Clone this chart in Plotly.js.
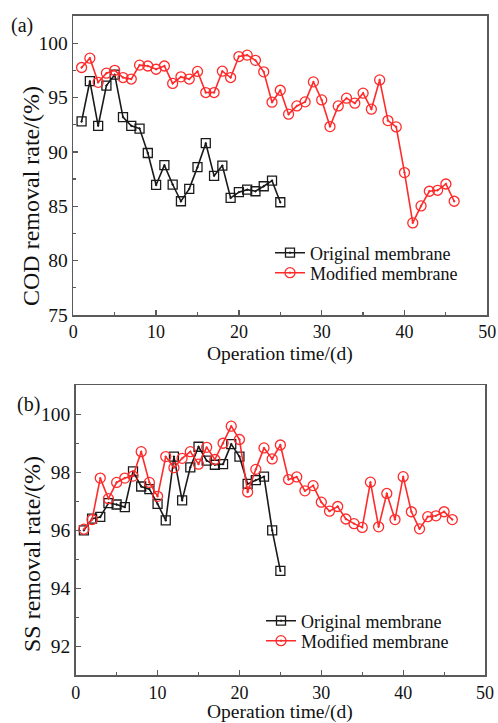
<!DOCTYPE html>
<html>
<head>
<meta charset="utf-8">
<script src="https://cdn.plot.ly/plotly-3.0.1.min.js"></script>
<style>html,body{margin:0;padding:0;background:#fff;}#chart{width:498px;height:723px;}</style>
</head>
<body>
<div id="chart"></div>
<script>
// ---- Data ----
const codDaysOriginal = [1,2,3,4,5,6,7,8,9,10,11,12,13,14,15,16,17,18,19,20,21,22,23,24,25];
const codOriginal = [92.8,96.5,92.4,96.1,97.1,93.2,92.4,92.15,89.9,86.96,88.78,87.0,85.46,86.6,88.6,90.8,87.8,88.74,85.77,86.3,86.53,86.38,86.84,87.36,85.37];
const codDaysModified = [1,2,3,4,5,6,7,8,9,10,11,12,13,14,15,16,17,18,19,20,21,22,23,24,25,26,27,28,29,30,31,32,33,34,35,36,37,38,39,40,41,42,43,44,45,46];
const codModified = [97.76,98.62,96.4,97.24,97.5,96.84,96.7,97.98,97.9,97.6,97.9,96.3,96.9,96.7,97.4,95.46,95.46,97.42,96.84,98.77,98.9,98.42,97.36,94.57,95.67,93.47,94.23,94.6,96.44,94.78,92.33,94.23,94.94,94.48,95.4,93.93,96.62,92.88,92.3,88.1,83.47,85.03,86.38,86.47,87.05,85.46];

const ssDaysOriginal = [1,2,3,4,5,6,7,8,9,10,11,12,13,14,15,16,17,18,19,20,21,22,23,24,25];
const ssOriginal = [96.0,96.4,96.46,96.94,96.89,96.8,98.03,97.51,97.42,96.91,96.34,98.54,97.03,98.17,98.88,98.4,98.26,98.28,98.97,98.54,97.6,97.73,97.85,96.0,94.6];
const ssDaysModified = [1,2,3,4,5,6,7,8,9,10,11,12,13,14,15,16,17,18,19,20,21,22,23,24,25,26,27,28,29,30,31,32,33,34,35,36,37,38,39,40,41,42,43,44,45,46];
const ssModified = [96.04,96.37,97.8,97.09,97.65,97.8,97.87,98.71,97.65,97.17,98.54,98.16,98.48,98.71,98.28,98.86,98.44,99.0,99.59,99.13,97.32,98.1,98.84,98.46,98.94,97.75,97.84,97.36,97.54,96.97,96.66,96.82,96.39,96.23,96.1,97.66,96.12,97.27,96.37,97.85,96.64,96.05,96.47,96.5,96.64,96.37];

const seriesNames = ['Original membrane', 'Modified membrane'];
const xTitle = 'Operation time/(d)';
const yTitleTop = 'COD removal rate/(%)';
const yTitleBottom = 'SS removal rate/(%)';
const panelLabels = ['(a)', '(b)'];

// ---- Styles ----
const FONT = 'Liberation Serif, Times New Roman, serif';
const BLACK = '#1a1a1a';
const RED = '#ff2a2a';
const AXC = '#5a5a5a';
const W = 498, H = 723;

function mk(x, y, name, color, symbol, size, xa, ya, legend) {
  return {
    x: x, y: y, name: name, type: 'scatter', mode: 'lines+markers',
    xaxis: xa, yaxis: ya, legend: legend, showlegend: true,
    line: {color: color, width: 1.6},
    marker: {symbol: symbol, size: size, color: color, line: {color: color, width: 1.3}},
    cliponaxis: false
  };
}

const traces = [
  mk(codDaysOriginal, codOriginal, seriesNames[0], BLACK, 'square-open-dot', 9, 'x', 'y', 'legend'),
  mk(codDaysModified, codModified, seriesNames[1], RED, 'circle-open-dot', 10, 'x', 'y', 'legend3'),
  mk(ssDaysOriginal, ssOriginal, seriesNames[0], BLACK, 'square-open-dot', 9, 'x2', 'y2', 'legend2'),
  mk(ssDaysModified, ssModified, seriesNames[1], RED, 'circle-open-dot', 10, 'x2', 'y2', 'legend4')
];

function xax(domain, anchor) {
  return {
    domain: domain, anchor: anchor, range: [0, 50], dtick: 10, tick0: 0,
    showgrid: false, zeroline: false, showline: true, mirror: true,
    linecolor: AXC, linewidth: 1.6,
    ticks: 'inside', ticklen: 5, tickwidth: 1.3, tickcolor: AXC,
    minor: {ticks: 'inside', dtick: 5, ticklen: 3, tickwidth: 1.2, tickcolor: AXC},
    tickfont: {family: FONT, size: 18, color: '#111'},
    automargin: false
  };
}
function yax(domain, anchor, range, dtick, tick0, minorDtick) {
  return {
    domain: domain, anchor: anchor, range: range, dtick: dtick, tick0: tick0,
    showgrid: false, zeroline: false, showline: true, mirror: true,
    linecolor: AXC, linewidth: 1.6,
    ticks: 'inside', ticklen: 5, tickwidth: 1.3, tickcolor: AXC,
    minor: {ticks: 'inside', dtick: minorDtick, ticklen: 3, tickwidth: 1.2, tickcolor: AXC},
    tickfont: {family: FONT, size: 19.5, color: '#111'},
    automargin: false
  };
}
function leg(px, py) {
  return {x: px / W, y: 1 - py / H, xanchor: 'left', yanchor: 'middle', bgcolor: 'rgba(0,0,0,0)',
          font: {family: FONT, size: 18, color: '#111'}, tracegroupgap: 0, itemwidth: 30, borderwidth: 0};
}
function ann(text, px, py, size, angle) {
  return {text: text, x: px / W, y: 1 - py / H, xref: 'paper', yref: 'paper', showarrow: false,
          xanchor: 'center', yanchor: 'middle', textangle: angle || 0,
          font: {family: FONT, size: size, color: '#111'}};
}

const layout = {
  width: W, height: H,
  margin: {l: 0, r: 0, t: 0, b: 0},
  paper_bgcolor: '#fff', plot_bgcolor: '#fff',
  font: {family: FONT, color: '#111'},
  xaxis: xax([0.1472, 0.9785], 'y'),
  yaxis: yax([0.5643, 0.9779], 'x', [75, 102.5], 5, 75, 2.5),
  xaxis2: xax([0.152, 0.974], 'y2'),
  yaxis2: yax([0.0658, 0.4672], 'x2', [91, 101], 2, 92, 1),
  legend: leg(270, 253),
  legend3: leg(270, 273),
  legend2: leg(261, 621),
  legend4: leg(261, 641),
  annotations: [
    ann(panelLabels[0], 22, 26, 20),
    ann(panelLabels[1], 28, 404, 20),
    ann(yTitleTop, 31, 196, 24, -90),
    ann(yTitleBottom, 32, 554, 24, -90),
    ann(xTitle, 280, 353.5, 19.5),
    ann(xTitle, 280, 712, 19.5)
  ]
};

Plotly.newPlot('chart', traces, layout, {staticPlot: true, displayModeBar: false});
</script>
</body>
</html>
